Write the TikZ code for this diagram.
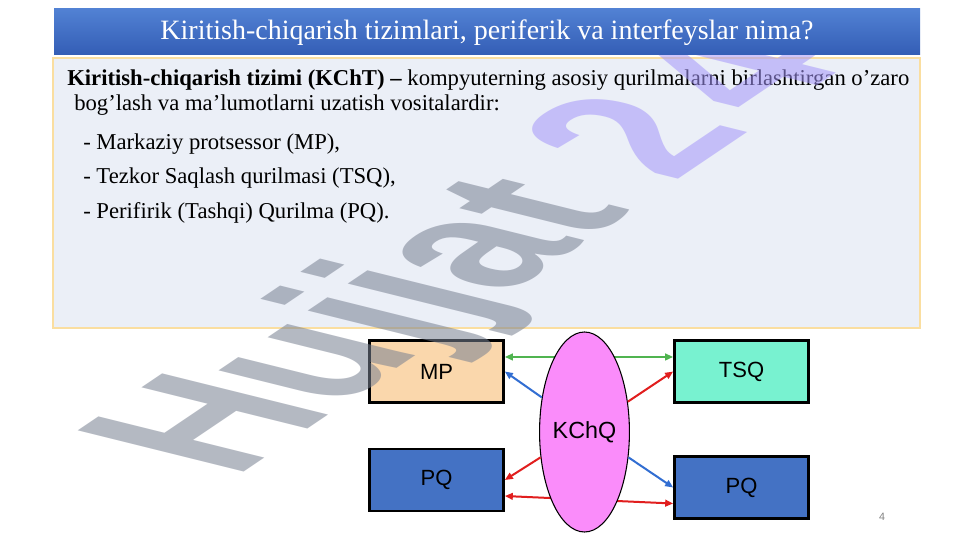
\documentclass[tikz,border=0pt]{standalone}
\usepackage{fontspec}
\setmainfont{Liberation Serif}
\setsansfont{Liberation Sans}
\usetikzlibrary{shapes.geometric,arrows.meta}
\definecolor{titletop}{RGB}{82,130,212}
\definecolor{titlebottom}{RGB}{52,94,182}
\definecolor{boxfill}{RGB}{235,239,247}
\definecolor{boxedge}{RGB}{250,222,160}
\definecolor{mpfill}{RGB}{250,215,172}
\definecolor{tsqfill}{RGB}{120,242,208}
\definecolor{pqfill}{RGB}{68,114,196}
\definecolor{kchqfill}{RGB}{250,140,250}
\definecolor{linkgreen}{RGB}{80,180,80}
\definecolor{linkblue}{RGB}{50,110,210}
\definecolor{linkred}{RGB}{225,30,30}
\definecolor{wmgray}{RGB}{120,128,145}
\definecolor{wmpurple}{RGB}{165,150,250}
\newcommand{\bodyfont}{\fontsize{17}{20}\selectfont}

\begin{document}
\begin{tikzpicture}[x=0.75pt, y=-0.75pt, every node/.style={inner sep=0pt},
		box/.style={draw=black, line width=2pt, minimum width=100.5pt, minimum height=46.5pt, font=\sffamily\fontsize{16.5}{18}\selectfont},
		link/.style={line width=1.5pt, -{Triangle[length=6pt,width=5pt]}},
		twolink/.style={line width=1.5pt, {Triangle[length=6pt,width=5pt]}-{Triangle[length=6pt,width=5pt]}}]
			% Background
			\useasboundingbox (0,0) rectangle (961,540);
			\fill[white] (0,0) rectangle (961,540);

			% Text box
			\draw[fill=boxfill, draw=boxedge, line width=1.5pt] (53,58) rectangle (920,328);
			\node[anchor=base west, font=\bodyfont] (line1) at (67,85) {\textbf{Kiritish-chiqarish tizimi (KChT) –} kompyuterning asosiy qurilmalarni birlashtirgan o’zaro};
			\node[anchor=base west, font=\bodyfont] (line2) at (74,110) {bog’lash va ma’lumotlarni uzatish vositalardir:};
			\node[anchor=base west, font=\bodyfont] (item1) at (83,149) {- Markaziy protsessor (MP),};
			\node[anchor=base west, font=\bodyfont] (item2) at (83,183) {- Tezkor Saqlash qurilmasi (TSQ),};
			\node[anchor=base west, font=\bodyfont] (item3) at (83,218) {- Perifirik (Tashqi) Qurilma (PQ).};

			% Blocks
			\node[box, fill=mpfill] (mp) at (436.5,371.5) {MP};
			\node[box, fill=tsqfill] (tsq) at (741.5,371.5) {TSQ};
			\node[box, fill=pqfill] (pql) at (436.5,480) {PQ};
			\node[box, fill=pqfill] (pqr) at (741.5,487.5) {PQ};

			% Links behind the bus
			\draw[twolink, linkgreen] ([yshift=10.9pt]mp.east) -- ([yshift=10.9pt]tsq.west);
			\draw[twolink, linkred] ([yshift=-12pt]pql.east) -- ([yshift=-12pt]pqr.west);

			% Bus
			\node[ellipse, draw=black, line width=0.8pt, fill=kchqfill, minimum width=66.75pt, minimum height=150pt, font=\sffamily\fontsize{17.5}{20}\selectfont] (kchq) at (584.5,432) {KChQ};

			% Links from the bus
			\draw[link, linkblue] (kchq.141) -- (mp.east);
			\draw[link, linkred] (kchq.35) -- (tsq.west);
			\draw[link, linkred] (kchq.210) -- (pql.east);
			\draw[link, linkblue] (kchq.330) -- (pqr.west);

			% Page number
			\node[text=gray, font=\sffamily\fontsize{8}{9}\selectfont] (page) at (882,517) {4};

			% Watermark
			\begin{scope}[shift={(234,479)}, cm={1.077,0.727,-1.809,0.449,(0,0)}, opacity=0.55]
				\node[transform shape, anchor=base west, text=wmgray, font=\sffamily\bfseries\fontsize{100}{100}\selectfont] (mark) at (0,0) {Hujjat \textcolor{wmpurple}{2\kern12pt 4}};
			\end{scope}

			% Title bar
			\shade[top color=titletop, bottom color=titlebottom] (54,8) rectangle (920,54);
			\node[anchor=base, text=white, font=\fontsize{21}{25}\selectfont] (title) at (487,39) {Kiritish-chiqarish tizimlari, periferik va interfeyslar nima?};
		\end{tikzpicture}
\end{document}
